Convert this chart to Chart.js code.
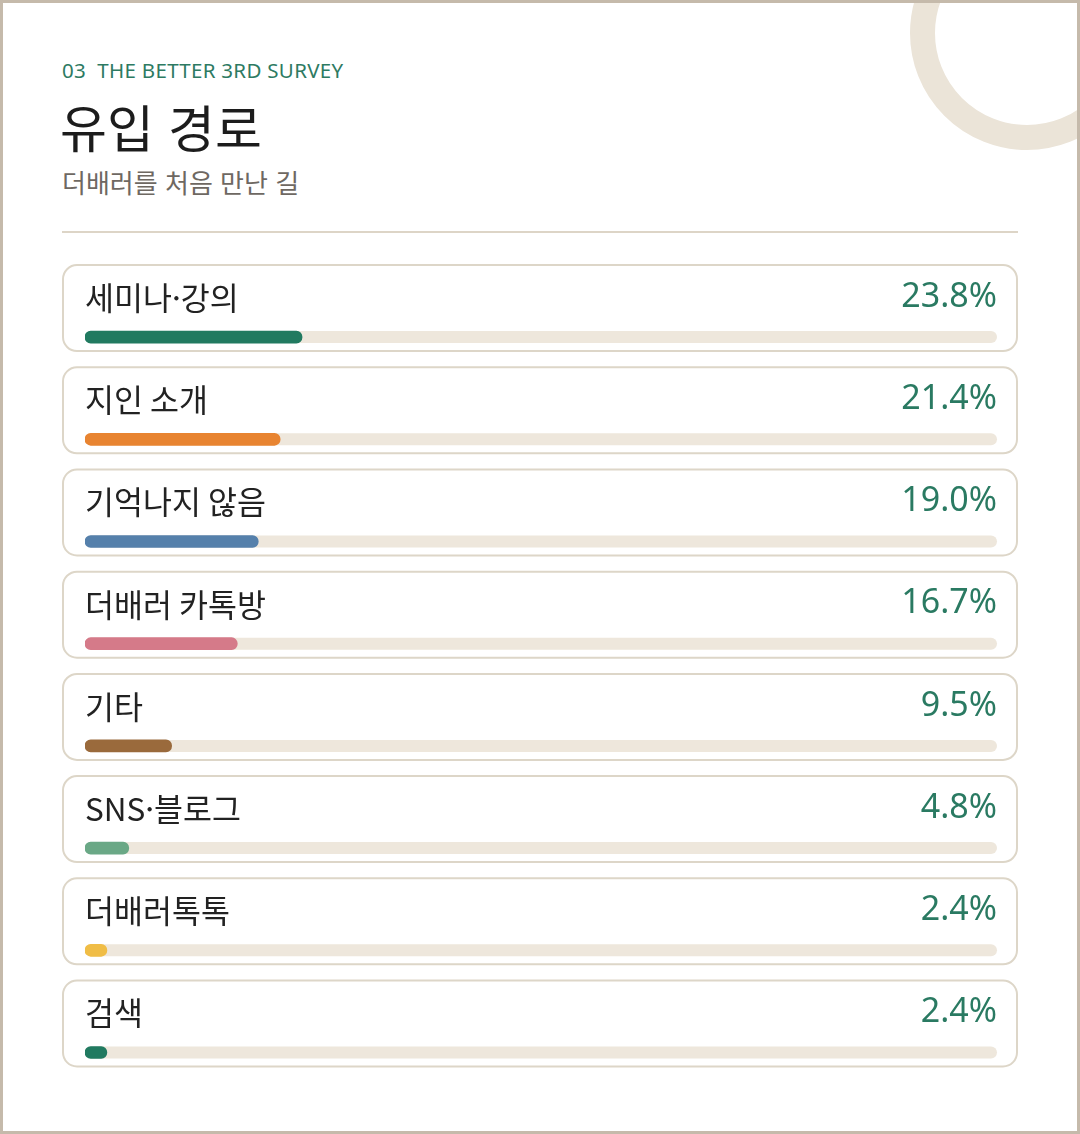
<!DOCTYPE html>
<html lang="ko">
<head>
<meta charset="utf-8">
<title>유입 경로</title>
<script src="https://cdn.jsdelivr.net/npm/chart.js@4"></script>
<style>
  html, body { margin: 0; padding: 0; background: #ffffff; }
  #frame { position: relative; width: 1080px; height: 1134px; overflow: hidden; background: #fff; }
  #frame::after { content: ""; position: absolute; inset: 0; border: 3px solid #c5baab; pointer-events: none; z-index: 5; }
  #ring { position: absolute; left: 910px; top: -84px; width: 234px; height: 234px; border-radius: 50%;
          box-sizing: border-box; border: 25px solid #ebe4d8; }
  .eyebrow { position: absolute; left: 62px; top: 60px; font: 400 20.5px/20px 'Noto Sans', 'Open Sans', sans-serif;
             letter-spacing: 0.3px; color: #2d7a62; white-space: pre; }
  .title { position: absolute; left: 60px; top: 101px; font: 400 51px/51px 'Noto Sans CJK KR', sans-serif; color: #1c1c1c; }
  .subtitle { position: absolute; left: 62px; top: 169px; font: 400 26px/26px 'Noto Sans CJK KR', sans-serif; color: #6e6862; }
  #divider { position: absolute; left: 62px; top: 231px; width: 956px; height: 2px; background: #ddd5c7; }
  #chartBox { position: absolute; left: 62px; top: 264px; width: 956px; height: 860px; }
</style>
</head>
<body>
<div id="frame">
  <div id="ring"></div>
  <div class="eyebrow">03  THE BETTER 3RD SURVEY</div>
  <div class="title">유입 경로</div>
  <div class="subtitle">더배러를 처음 만난 길</div>
  <div id="divider"></div>
  <div id="chartBox"><canvas id="c" width="956" height="860"></canvas></div>
</div>
<script>
// ---- data ----
const categories = ['세미나·강의', '지인 소개', '기억나지 않음', '더배러 카톡방', '기타', 'SNS·블로그', '더배러톡톡', '검색'];
const values = [23.8, 21.4, 19.0, 16.7, 9.5, 4.8, 2.4, 2.4];
const scaleMax = 100;
// ---- styles ----
const barColors = ['#217a60', '#e88431', '#5580ab', '#d57a89', '#9a6a3c', '#6aa886', '#f0bd46', '#217a60'];
const trackColor = '#eee7dc';
const cardBorder = '#ddd6c8';

const cardsPlugin = {
  id: 'cards',
  beforeDraw(chart) {
    const ctx = chart.ctx, y = chart.scales.y;
    ctx.save();
    categories.forEach((_, i) => {
      const cy = y.getPixelForValue(i);
      ctx.beginPath();
      ctx.roundRect(1, cy - 72, chart.width - 2, 86, 14);
      ctx.fillStyle = '#ffffff';
      ctx.fill();
      ctx.lineWidth = 2;
      ctx.strokeStyle = cardBorder;
      ctx.stroke();
    });
    ctx.restore();
  },
  beforeDatasetsDraw(chart) {
    const ctx = chart.ctx, y = chart.scales.y, x = chart.scales.x;
    ctx.save();
    ctx.fillStyle = trackColor;
    categories.forEach((_, i) => {
      const cy = y.getPixelForValue(i);
      const x0 = x.getPixelForValue(0), x1 = x.getPixelForValue(scaleMax);
      ctx.beginPath();
      ctx.roundRect(x0, cy - 6, x1 - x0, 12, 6);
      ctx.fill();
    });
    ctx.restore();
  }
};

new Chart(document.getElementById('c'), {
  type: 'bar',
  data: {
    labels: categories,
    datasets: [{
      data: values,
      backgroundColor: barColors,
      barThickness: 12,
      borderRadius: 6,
      borderSkipped: false
    }]
  },
  options: {
    indexAxis: 'y',
    responsive: false,
    animation: false,
    layout: { padding: { left: 23, right: 21, top: 22, bottom: 8 } },
    plugins: { legend: { display: false }, tooltip: { enabled: false } },
    scales: {
      x: { type: 'linear', min: 0, max: scaleMax, display: false },
      y: {
        type: 'category', position: 'left', offset: true,
        grid: { display: false, drawTicks: false }, border: { display: false },
        ticks: { mirror: true, padding: 0, labelOffset: -39, color: '#222222',
                 font: { family: "'Noto Sans CJK KR', sans-serif", size: 31.5, weight: 400 } }
      },
      y2: {
        type: 'category', position: 'right', offset: true, labels: categories,
        grid: { display: false, drawTicks: false }, border: { display: false },
        ticks: { mirror: true, padding: 0, labelOffset: -40, color: '#2a7a62',
                 font: { family: "'Noto Sans', 'Open Sans', sans-serif", size: 34, weight: 400 },
                 callback: (v, i) => values[i].toFixed(1) + '%' }
      }
    }
  },
  plugins: [cardsPlugin]
});
</script>
</body>
</html>
